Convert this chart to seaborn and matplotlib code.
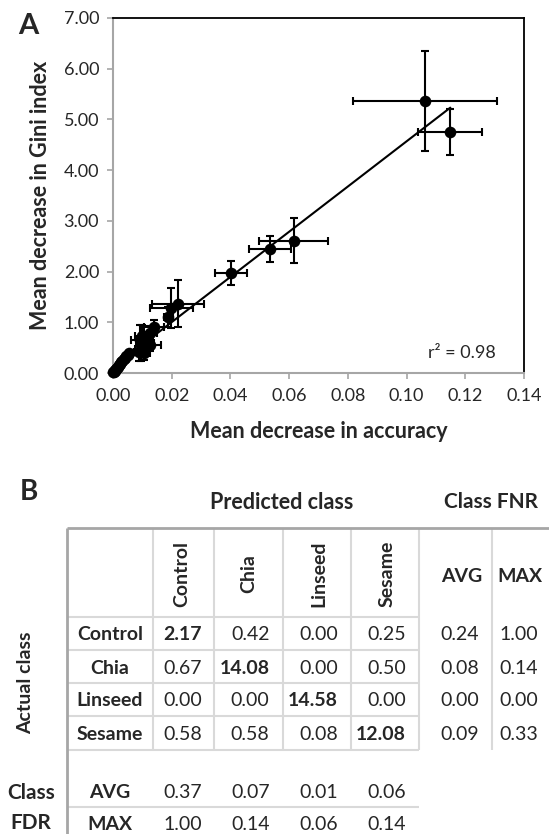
import numpy as np
import pandas as pd
import matplotlib
matplotlib.use("Agg")
import matplotlib.pyplot as plt
import seaborn as sns

# ---------------- Panel A data ----------------
acc_mean = [0.1064, 0.1149, 0.0616, 0.0534, 0.0401, 0.0222, 0.0198,
            0.0188, 0.0140, 0.0125, 0.0100, 0.0092, 0.0110, 0.0125, 0.0095, 0.0088, 0.0105,
            0.0055, 0.0050, 0.0045, 0.0040, 0.0036, 0.0032, 0.0028, 0.0024,
            0.0020, 0.0017, 0.0014, 0.0011, 0.0008, 0.0006, 0.0003, 0.0001]
acc_err = [0.0245, 0.0109, 0.0117, 0.0072, 0.0055, 0.0089, 0.0073,
           0.0015, 0.0035, 0.0025, 0.0025, 0.0030, 0.0030, 0.0040, 0.0020, 0.0015, 0.0020,
           0, 0, 0, 0, 0, 0, 0, 0, 0, 0, 0, 0, 0, 0, 0, 0]
gini_mean = [5.36, 4.75, 2.61, 2.44, 1.98, 1.37, 1.28,
             1.11, 0.90, 0.78, 0.72, 0.66, 0.60, 0.55, 0.48, 0.42, 0.40,
             0.40, 0.36, 0.33, 0.30, 0.27, 0.24, 0.21, 0.18,
             0.15, 0.12, 0.10, 0.08, 0.06, 0.04, 0.02, 0.01]
gini_err = [0.985, 0.45, 0.445, 0.26, 0.235, 0.46, 0.39,
            0.20, 0.15, 0.15, 0.22, 0.28, 0.20, 0.12, 0.25, 0.18, 0.15,
            0, 0, 0, 0, 0, 0, 0, 0, 0, 0, 0, 0, 0, 0, 0, 0]
x_ticks = [0.00, 0.02, 0.04, 0.06, 0.08, 0.10, 0.12, 0.14]
y_ticks = [0, 1, 2, 3, 4, 5, 6, 7]
r2_text = "r\u00b2 = 0.98"

# ---------------- Panel B data ----------------
classes = ["Control", "Chia", "Linseed", "Sesame"]
conf_rows = [[2.17, 0.42, 0.00, 0.25],
             [0.67, 14.08, 0.00, 0.50],
             [0.00, 0.00, 14.58, 0.00],
             [0.58, 0.58, 0.08, 12.08]]
fnr_avg = [0.24, 0.08, 0.00, 0.09]
fnr_max = [1.00, 0.14, 0.00, 0.33]
fdr_avg = [0.37, 0.07, 0.01, 0.06]
fdr_max = [1.00, 0.14, 0.06, 0.14]

df = pd.DataFrame({"acc": acc_mean, "gini": gini_mean,
                   "acc_err": acc_err, "gini_err": gini_err})

sns.set_theme(style="white")
FONT = ["Lato", "DejaVu Sans"]
plt.rcParams["font.family"] = FONT

W, H = 549, 834
fig = plt.figure(figsize=(W / 100, H / 100), dpi=100)
fig.patch.set_facecolor("white")

# axes in pixel box: left 113, right 524, top 18, bottom 373
L, R, T, B = 113, 524, 18, 373
ax = fig.add_axes([L / W, 1 - B / H, (R - L) / W, (B - T) / H])

ax.errorbar(df["acc"], df["gini"], xerr=df["acc_err"], yerr=df["gini_err"],
            fmt="none", ecolor="black", elinewidth=1.5, capsize=3.2, capthick=1.5, zorder=2)
sns.regplot(data=df, x="acc", y="gini", ax=ax, ci=None, scatter=False, truncate=True,
            line_kws=dict(color="black", lw=1.5, zorder=3))
sns.scatterplot(data=df, x="acc", y="gini", ax=ax, color="black", s=70,
                edgecolor="black", linewidth=0, zorder=4, clip_on=False)

ax.set_xlim(0, 0.14)
ax.set_ylim(0, 7)
ax.set_xticks(x_ticks)
ax.set_yticks(y_ticks)
ax.set_xticklabels([f"{v:.2f}" for v in x_ticks])
ax.set_yticklabels([f"{v:.2f}" for v in y_ticks])
ax.tick_params(axis="both", labelsize=13, color="#a6a6a6", direction="out",
               length=4, width=1.2)
ax.tick_params(axis="x", pad=7, bottom=True)
ax.tick_params(axis="y", pad=6, left=True)
for s in ["left", "bottom"]:
    ax.spines[s].set_color("#a6a6a6")
    ax.spines[s].set_linewidth(1.5)
for s in ["top", "right"]:
    ax.spines[s].set_color("black")
    ax.spines[s].set_linewidth(1.3)
    ax.spines[s].set_visible(True)
ax.set_xlabel("Mean decrease in accuracy", fontsize=15.5, fontweight="bold", labelpad=12)
ax.set_ylabel("Mean decrease in Gini index", fontsize=15.5, fontweight="bold", labelpad=9)
ax.text(0.932, 0.056, r2_text, transform=ax.transAxes, ha="right", va="center", fontsize=13)

# ---------------- Panel B (table) ----------------
tb = fig.add_axes([0, 0, 1, 1], facecolor="none")
tb.set_xlim(0, W)
tb.set_ylim(H, 0)
tb.axis("off")

tb.text(28, 26, "A", fontsize=21, fontweight="bold", ha="center", va="center")
tb.text(29, 492, "B", fontsize=20, fontweight="bold", ha="center", va="center")
tb.text(282, 502, "Predicted class", fontsize=15.5, fontweight="bold", ha="center", va="center")
tb.text(491, 502, "Class FNR", fontsize=15, fontweight="bold", ha="center", va="center")
tb.text(26, 683, "Actual class", fontsize=14, fontweight="bold", rotation=90, ha="center", va="center")
tb.text(31, 793, "Class", fontsize=15, fontweight="bold", ha="center", va="center")
tb.text(31, 823, "FDR", fontsize=15, fontweight="bold", ha="center", va="center")

outer = "#a6a6a6"
inner = "#d9d9d9"
col_x = [153, 214, 283, 351, 419, 492]
row_y = [617, 650, 683, 716, 750]
for xv in col_x:
    tb.plot([xv, xv], [528, 750], color=inner, lw=1.5, solid_capstyle="butt")
for yv in row_y:
    tb.plot([67, 419], [yv, yv], color=inner, lw=1.5, solid_capstyle="butt")
tb.plot([67, 419], [807, 807], color=inner, lw=1.5, solid_capstyle="butt")
tb.plot([67, W], [528, 528], color=outer, lw=2, solid_capstyle="butt")
tb.plot([67, 67], [528, H], color=outer, lw=2, solid_capstyle="butt")

head_x = [182, 249, 318.6, 387]
for cx, name in zip(head_x, classes):
    tb.text(cx, 574, name, fontsize=14, fontweight="bold", rotation=90, ha="center", va="center")
tb.text(462, 577, "AVG", fontsize=14, fontweight="bold", ha="center", va="center")
tb.text(520, 577, "MAX", fontsize=14, fontweight="bold", ha="center", va="center")

val_right = [202, 269.6, 338, 406]
row_c = [635, 668, 701, 734]
for i, (rc, name) in enumerate(zip(row_c, classes)):
    tb.text(110, rc, name, fontsize=14, fontweight="bold", ha="center", va="center")
    for j, vr in enumerate(val_right):
        tb.text(vr, rc, f"{conf_rows[i][j]:.2f}", fontsize=14,
                fontweight="bold" if i == j else "normal", ha="right", va="center")
    tb.text(479, rc, f"{fnr_avg[i]:.2f}", fontsize=14, ha="right", va="center")
    tb.text(538, rc, f"{fnr_max[i]:.2f}", fontsize=14, ha="right", va="center")

tb.text(110, 793, "AVG", fontsize=14, fontweight="bold", ha="center", va="center")
tb.text(110, 824, "MAX", fontsize=14, fontweight="bold", ha="center", va="center")
for j, vr in enumerate(val_right):
    tb.text(vr, 793, f"{fdr_avg[j]:.2f}", fontsize=14, ha="right", va="center")
    tb.text(vr, 824, f"{fdr_max[j]:.2f}", fontsize=14, ha="right", va="center")

fig.savefig("out.png", dpi=100, facecolor="white")
